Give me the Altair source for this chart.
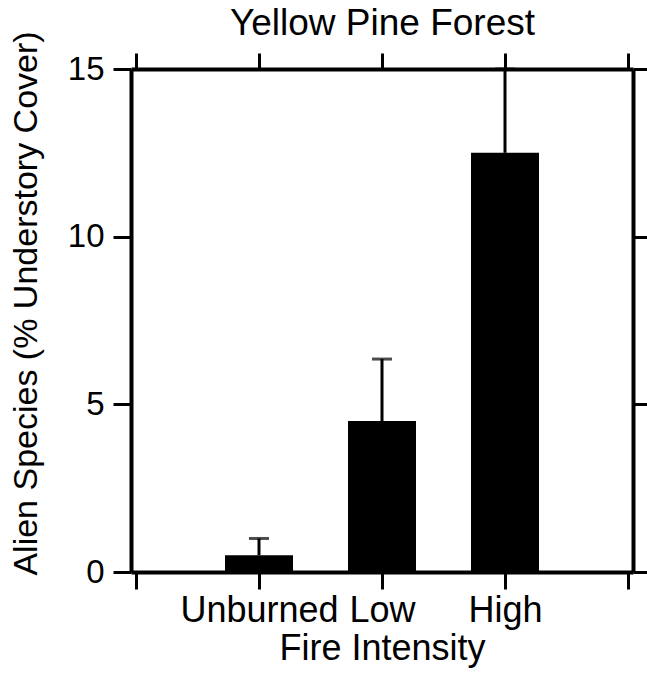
import altair as alt
import pandas as pd

# ---- data ----
categories = ["Unburned", "Low", "High"]
mean_cover = [0.5, 4.5, 12.5]
upper_cover = [1.0, 6.35, 15.0]
chart_title = "Yellow Pine Forest"

df = pd.DataFrame({
    "intensity": categories,
    "pos": [i + 1 for i in range(len(categories))],
    "mean": mean_cover,
    "upper": upper_cover,
})

FONT = "Liberation Sans"
label_expr = " : ".join(
    [f"datum.value == {i + 1} ? '{c}'" for i, c in enumerate(categories)]
) + " : ''"

x_scale = alt.Scale(domain=[0, len(categories) + 1], nice=False, zero=False)
y_scale = alt.Scale(domain=[0, 15], nice=False)

common_axis = dict(
    domainColor="black", domainWidth=4, tickColor="black", tickWidth=3,
    grid=False, labelColor="black", titleColor="black",
    labelFont=FONT, titleFont=FONT, titleFontWeight="normal",
)

x_bottom = alt.Axis(
    orient="bottom", values=[0, 1, 2, 3, 4], labelExpr=label_expr,
    tickSize=17, labelFontSize=36, labelPadding=4, labelFlush=False,
    labelOverlap=False, title="Fire Intensity", titleFontSize=36,
    titlePadding=3, **common_axis,
)
y_left = alt.Axis(
    orient="left", values=[0, 5, 10, 15], tickSize=18, labelFontSize=33,
    labelPadding=9, labelFlush=False, title="Alien Species (% Understory Cover)",
    titleFontSize=34, titlePadding=24, titleY=234, **common_axis,
)
# the top axis carries the panel title
x_top = alt.Axis(
    orient="top", values=[0, 1, 2, 3, 4], tickSize=16, labels=False,
    title=chart_title, titleFontSize=37, titlePadding=9, **common_axis,
)
y_right = alt.Axis(
    orient="right", values=[0, 5, 10, 15], tickSize=14, labels=False,
    title=None, **common_axis,
)

bars = alt.Chart(df).mark_bar(size=68, orient="vertical", color="black").encode(
    x=alt.X("pos:Q", scale=x_scale, axis=x_bottom),
    y=alt.Y("mean:Q", scale=y_scale, axis=y_left),
)

err = alt.Chart(df).mark_rule(color="black", strokeWidth=3).encode(
    x=alt.X("pos:Q", scale=x_scale, axis=x_top),
    y=alt.Y("mean:Q", scale=y_scale, axis=y_right),
    y2="upper:Q",
)

caps = alt.Chart(df).mark_tick(color="black", orient="horizontal", size=20, thickness=3).encode(
    x=alt.X("pos:Q", scale=x_scale, axis=None),
    y=alt.Y("upper:Q", scale=y_scale, axis=None),
)

chart = alt.layer(bars, err, caps).resolve_axis(
    x="independent", y="independent"
).properties(
    width=502, height=503,
    autosize=alt.AutoSizeParams(type="none"),
    padding={"left": 131, "top": 69, "right": 14, "bottom": 116},
).configure_view(stroke=None).configure(background="white")

chart.save("out.html", embed_options={"renderer": "svg", "actions": False})
